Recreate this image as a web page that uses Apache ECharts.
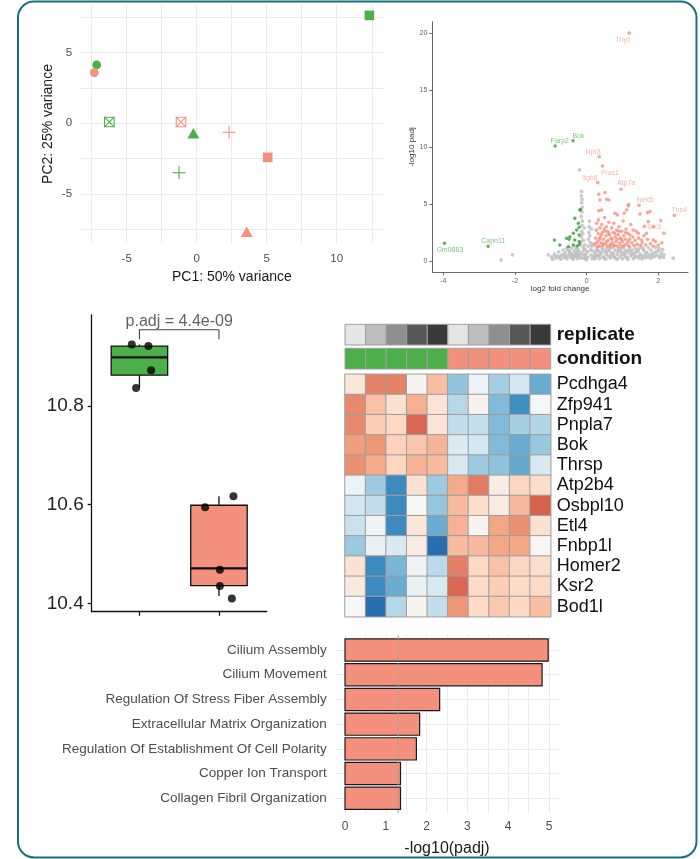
<!DOCTYPE html>
<html><head><meta charset="utf-8">
<script src="https://cdn.jsdelivr.net/npm/echarts@6/dist/echarts.min.js"></script>
<style>html,body{margin:0;padding:0;background:#fff}#c{width:700px;height:859px}</style>
</head><body><div id="c"></div>
<script>
// ---------------- DATA ----------------
const GREEN = '#4daf4a', SALMON = '#f4917e';

// PCA: samples in order condition A rep1..5, condition B rep1..5
const pcaPC1 = [-7.14, -0.24, 12.33, -1.26, -6.24, -7.31, 3.57, 5.07, 2.31, -1.12];
const pcaPC2 = [4.13, -0.76, 7.64, -3.50, 0.09, 3.58, -7.74, -2.41, -0.64, 0.09];
const pcaCond = [0, 0, 0, 0, 0, 1, 1, 1, 1, 1];
const pcaRep = [1, 2, 3, 4, 5, 1, 2, 3, 4, 5];
const pcaXTicks = [-5, 0, 5, 10];
const pcaYTicks = [-5, 0, 5];

// Volcano
const volcGray = [[-1.07,0.53],[-0.95,0.15],[-0.98,0.35],[-0.9,0.6],[-0.85,0.25],[-0.8,0.45],[-0.78,0.8],[-0.72,0.15],[-0.7,0.5],[-0.66,0.95],[-0.62,0.3],[-0.6,0.7],[-0.56,1.1],[-0.55,0.2],[-0.5,0.5],[-0.48,0.85],[-0.45,0.3],[-0.42,1.15],[-0.4,0.6],[-0.38,0.15],[-0.35,0.9],[-0.33,0.4],[-0.3,1.2],[-0.28,0.7],[-0.25,0.2],[-0.24,1.0],[-0.22,0.45],[-0.2,1.4],[-0.19,0.8],[-0.17,0.3],
 [-0.16,1.7],[-0.15,2.1],[-0.14,2.6],[-0.13,3.1],[-0.12,3.5],[-0.15,3.9],[-0.13,4.3],[-0.12,4.7],[-0.14,5.1],[-0.13,5.4],[-0.15,5.7],[-0.14,6.1],[-0.2,8.0],[-0.1,1.2],[-0.11,2.4],[-0.09,1.8],[-0.08,0.9],[-0.07,2.9],[-0.06,1.4],[-0.05,0.5],[-0.04,1.0],[-0.03,0.2],[-0.02,0.6],[-0.01,0.1],[-0.12,0.6],[-0.1,0.25],
 [0.02,0.3],[0.03,0.8],[0.04,1.3],[0.05,1.9],[0.06,2.5],[0.07,3.0],[0.08,3.5],[0.09,2.2],[0.1,1.6],[0.11,1.0],[0.12,0.5],[0.13,2.8],[0.14,1.3],[0.15,0.2],[0.16,0.9],[0.18,1.5],[0.19,0.4],
 [0.22,0.7],[0.25,0.25],[0.28,1.1],[0.3,0.5],[0.33,0.9],[0.36,0.2],[0.4,0.65],[0.43,1.15],[0.46,0.35],[0.5,0.8],[0.53,0.15],[0.56,1.05],[0.6,0.45],[0.63,0.9],[0.66,0.25],[0.7,0.7],[0.73,1.2],[0.76,0.4],[0.8,0.95],[0.83,0.2],[0.86,0.6],[0.9,1.1],[0.93,0.35],[0.96,0.8],[1.0,0.2],[1.03,1.15],[1.06,0.55],[1.1,0.9],[1.13,0.3],[1.16,0.7],[1.2,1.2],[1.23,0.45],[1.26,0.95],[1.3,0.2],[1.33,0.65],[1.36,1.1],[1.4,0.4],[1.43,0.85],[1.46,0.25],[1.5,0.6],[1.54,1.2],[1.57,0.45],[1.6,0.9],[1.64,0.3],[1.68,0.75],[1.72,1.15],[1.75,0.5],[1.8,0.95],[1.84,0.35],[1.88,0.7],[1.92,1.2],[1.96,0.5],[2.0,0.9],[2.04,0.3],[2.08,0.7],[2.12,1.0],[2.16,0.55],[2.42,0.24],[-2.07,0.53],[-2.39,0.09],
 [0.24,0.45],[0.38,0.75],[0.48,0.3],[0.58,0.85],[0.68,0.5],[0.78,0.3],[0.88,0.85],[0.98,0.55],[1.08,0.35],[1.18,0.95],[1.28,0.55],[1.38,0.8],[1.48,0.45],[1.58,1.05],[1.7,0.35],[1.82,0.6],[1.94,0.8],[2.06,0.45],[-0.88,0.45],[-0.64,0.55],[-0.46,0.7],[-0.36,0.35],[-0.27,0.95],[-0.21,0.6],
 [0.21,0.2],[0.27,0.85],[0.35,0.45],[0.45,1.0],[0.55,0.6],[0.65,1.1],[0.75,0.65],[0.85,0.15],[0.95,1.05],[1.05,0.75],[1.15,0.15],[1.25,0.75],[1.35,0.35],[1.45,1.05],[1.55,0.2],[1.65,0.6],[1.78,0.25],[1.9,0.4],[2.02,1.1],[2.14,0.3],[-0.75,0.3],[-0.58,0.4],[-0.52,0.95],[-0.41,0.45],[-0.31,0.6],[-0.26,0.4]];
const volcUp = [[1.19,20.0],[0.35,9.15],[0.44,8.33],[0.31,6.87],[0.96,6.29],[1.46,4.89],[2.45,4.0],[2.07,3.54],
 [0.34,5.85],[0.51,6.0],[0.56,5.41],[0.62,5.35],[0.37,5.35],[1.17,4.94],[1.12,4.47],[1.7,4.24],[1.77,4.33],[1.49,4.12],[0.79,4.18],[0.86,4.04],[1.05,4.18],[0.34,4.41],[0.42,4.47],[2.16,2.43],[1.72,3.45],[1.61,3.01],[1.86,3.01],[1.67,2.43],[1.3,2.72],[1.44,2.43],[1.86,1.84],[1.54,1.84],[1.21,2.28],[1.16,4.82],
 [0.22,1.4],[0.25,2.0],[0.27,2.7],[0.28,3.3],[0.3,1.7],[0.32,2.4],[0.33,3.6],[0.35,1.3],[0.37,2.9],[0.38,2.1],[0.4,1.6],[0.42,3.2],[0.44,2.5],[0.45,1.35],[0.47,1.9],[0.49,2.8],[0.5,3.8],[0.52,1.5],[0.54,2.2],[0.55,3.0],[0.57,1.3],[0.59,2.6],[0.6,1.8],[0.62,3.4],[0.64,2.3],[0.66,1.45],[0.68,2.0],[0.7,2.9],[0.72,1.6],[0.74,2.5],[0.76,3.3],[0.78,1.35],[0.8,2.1],[0.82,1.7],[0.84,2.7],[0.86,1.3],[0.88,2.3],[0.9,3.0],[0.92,1.55],[0.94,2.0],[0.96,1.3],[0.98,2.6],[1.0,1.7],[1.02,3.5],[1.04,2.2],[1.06,1.4],[1.08,1.9],[1.1,2.8],[1.12,1.5],[1.15,2.4],[1.18,1.3],[1.2,1.9],[1.23,3.2],[1.26,1.6],[1.29,2.1],[1.32,1.35],[1.35,1.8],[1.38,2.6],[1.41,1.45],[1.45,2.0],[1.5,1.35],[1.55,1.6],[1.6,2.2],[1.65,1.4],[1.7,1.9],[1.78,1.5],[1.85,1.3],[1.92,1.7],[2.0,1.4],[2.1,1.6],
 [0.26,1.55],[0.31,1.25],[0.36,1.9],[0.41,2.3],[0.46,1.5],[0.51,2.6],[0.56,1.7],[0.61,2.4],[0.65,1.3],[0.71,1.9],[0.75,1.4],[0.79,2.4],[0.85,1.9],[0.91,2.6],[0.97,1.9],[1.03,1.3],[1.09,2.5],[1.16,1.7]];
const volcDown = [[-0.38,10.55],[-0.88,10.09],[-2.75,1.29],[-3.97,1.55],[-0.19,4.47],[-0.33,3.74],[-0.23,3.3],[-0.21,2.96],[-0.28,2.72],[-0.37,2.43],[-0.21,2.28],[-0.47,2.13],[-0.56,1.99],[-0.33,1.84],[-0.21,1.69],[-0.9,1.84],[-0.75,1.4],[-0.51,1.25],[-0.37,1.4],[-0.26,1.32],[-0.19,1.49],[-0.49,1.9],[-0.17,4.5]];
const volcLabelNames = ['Thy1','Bok','Farp2','Npr3','Fras1','Itgb8','Atp7a','Nek5','Tns4','Stx3','Capn11','Gm0883'];
const volcLabelX = [1.02,-0.23,-0.75,0.18,0.65,0.09,1.10,1.63,2.58,1.88,-2.61,-3.82];
const volcLabelY = [19.39,10.99,10.55,9.54,7.72,7.31,6.82,5.32,4.47,2.96,1.78,0.96];
const volcLabelUp = [1,0,0,1,1,1,1,1,1,1,0,0];
const volcXTicks = [-4, -2, 0, 2];
const volcYTicks = [0, 5, 10, 15, 20];

// Boxplot (one gene, two conditions)
const boxStats = [[1, 10.838, 10.863, 10.899, 10.922, 10.925], [2, 10.415, 10.436, 10.471, 10.599, 10.617]];
const boxPoints = [[0.904,10.925],[1.113,10.922],[1.147,10.873],[0.958,10.837],[1.826,10.595],[2.182,10.617],[2.011,10.468],[2.011,10.435],[2.162,10.410]];
const boxYTicks = [10.4, 10.6, 10.8];
const pAdjText = 'p.adj = 4.4e-09';
const bracketY = [10.936, 10.955];

// Heatmap
const heatSamples = ['A1','A2','A3','A4','A5','B1','B2','B3','B4','B5'];
const heatRep = [1,2,3,4,5,1,2,3,4,5];
const heatCond = [0,0,0,0,0,1,1,1,1,1];
const heatGenes = ['Pcdhga4','Zfp941','Pnpla7','Bok','Thrsp','Atp2b4','Osbpl10','Etl4','Fnbp1l','Homer2','Ksr2','Bod1l'];
const heatVals = [
 [0.3, 1.25, 1.25, 0.05, 0.77, -1.0, -0.15, -0.85, -0.45, -1.25],
 [1.2, 0.75, 0.4, 0.9, 0.35, -0.7, 0.1, -1.1, -1.55, -0.02],
 [1.2, 0.62, 0.52, 1.45, 0.35, -0.62, -0.6, -1.1, -0.85, -0.75],
 [1.05, 1.1, 0.58, 0.7, 0.85, -0.35, -0.45, -1.1, -1.25, -0.95],
 [1.15, 0.95, 0.55, 0.88, 0.8, -0.4, -0.92, -1.02, -1.28, -0.4],
 [-0.15, -0.9, -1.6, 0.4, -0.92, 0.95, 1.3, 0.2, 0.55, 0.45],
 [-0.47, -0.62, -1.6, 0.0, -0.98, 0.8, 0.45, 0.2, 0.82, 1.48],
 [-0.56, -0.12, -1.6, 0.3, -1.25, 0.88, 0.08, 0.98, 1.15, 0.4],
 [-0.93, -0.2, -0.4, 0.2, -1.9, 0.8, 0.82, 0.98, 0.97, 0.02],
 [0.38, -1.6, -1.15, -0.1, -0.68, 1.27, 0.52, 0.73, 0.55, 0.45],
 [0.25, -1.6, -1.25, -0.2, -0.4, 1.45, 0.5, 0.62, 0.5, 0.5],
 [0.0, -1.9, -0.72, 0.05, -0.62, 1.1, 0.5, 0.68, 0.52, 0.76]
];

// Enrichment
const terms = ['Cilium Assembly','Cilium Movement','Regulation Of Stress Fiber Assembly','Extracellular Matrix Organization','Regulation Of Establishment Of Cell Polarity','Copper Ion Transport','Collagen Fibril Organization'];
const termScores = [4.98, 4.83, 2.32, 1.83, 1.75, 1.36, 1.36];
const barXTicks = [0, 1, 2, 3, 4, 5];
const sigThreshold = 1.301;

// ---------------- STYLE / BUILD ----------------
const FONT = 'Liberation Sans, Arial, Helvetica, sans-serif';
const repShades = ['#e5e5e5','#bdbdbd','#8f8f8f','#575757','#393939'];
const condColors = [GREEN, SALMON];
const GRIDC = '#ebebeb';

const chart = echarts.init(document.getElementById('c'), null, {renderer: 'canvas', width: 700, height: 859});

const grids = [
  {left: 80.6, top: 4.5, width: 302.5, height: 239},        // 0 PCA
  {left: 432.3, top: 21.7, width: 255.7, height: 250.6},    // 1 volcano
  {left: 91.7, top: 315, width: 175, height: 296.7},        // 2 boxplot
  {left: 345, top: 324.3, width: 205.7, height: 20.7},      // 3 replicate
  {left: 345, top: 348.3, width: 205.7, height: 20.7},      // 4 condition
  {left: 345, top: 374.3, width: 205.7, height: 242.4},     // 5 heatmap
  {left: 334.8, top: 635.2, width: 224.4, height: 177.9}    // 6 bars
];

const halfSteps = (a, b, s) => { const r = []; for (let v = a; v <= b + 1e-9; v += s) r.push(+v.toFixed(4)); return r; };

const xAxis = [
  {gridIndex: 0, type: 'value', min: -8.29, max: 13.31,
   axisLine: {show: false, onZero: false}, axisTick: {show: false, customValues: halfSteps(-7.5, 12.5, 2.5)},
   axisLabel: {customValues: pcaXTicks, fontSize: 11.5, color: '#4d4d4d', margin: 9},
   splitLine: {show: true, lineStyle: {color: GRIDC, width: 1}},
   name: 'PC1: 50% variance', nameLocation: 'middle', nameGap: 27, nameTextStyle: {fontSize: 14, color: '#1a1a1a'}},
  {gridIndex: 1, type: 'value', min: -4.31, max: 2.83,
   axisLine: {show: true, onZero: false, lineStyle: {color: '#6a6a6a', width: 1}},
   axisTick: {show: true, length: 3, customValues: volcXTicks, lineStyle: {color: '#6a6a6a'}},
   axisLabel: {customValues: volcXTicks, fontSize: 7, color: '#666', margin: 5},
   splitLine: {show: false},
   name: 'log2 fold change', nameLocation: 'middle', nameGap: 12, nameTextStyle: {fontSize: 8, color: '#333'}},
  {gridIndex: 2, type: 'value', min: 0.4, max: 2.6,
   axisLine: {show: true, onZero: false, lineStyle: {color: '#111', width: 1.3}},
   axisTick: {show: true, length: 4, customValues: [1, 2], lineStyle: {color: '#111', width: 1.3}},
   axisLabel: {show: false}, splitLine: {show: false}},
  {gridIndex: 3, type: 'category', data: heatSamples, show: false},
  {gridIndex: 4, type: 'category', data: heatSamples, show: false},
  {gridIndex: 5, type: 'category', data: heatSamples, show: false},
  {gridIndex: 6, type: 'value', min: -0.25, max: 5.25,
   axisLine: {show: false, onZero: false}, axisTick: {show: false, customValues: halfSteps(0, 5, 0.5)},
   axisLabel: {customValues: barXTicks, fontSize: 12, color: '#4d4d4d', margin: 8},
   splitLine: {show: true, lineStyle: {color: GRIDC, width: 1}},
   name: '-log10(padj)', nameLocation: 'middle', nameGap: 27, nameTextStyle: {fontSize: 16, color: '#1a1a1a'}}
];

const yAxis = [
  {gridIndex: 0, type: 'value', min: -8.51, max: 8.41,
   axisLine: {show: false, onZero: false}, axisTick: {show: false, customValues: halfSteps(-7.5, 7.5, 2.5)},
   axisLabel: {customValues: pcaYTicks, fontSize: 11.5, color: '#4d4d4d', margin: 8.5},
   splitLine: {show: true, lineStyle: {color: GRIDC, width: 1}},
   name: 'PC2: 25% variance', nameLocation: 'middle', nameGap: 25, nameTextStyle: {fontSize: 14, color: '#1a1a1a'}},
  {gridIndex: 1, type: 'value', min: -1, max: 21,
   axisLine: {show: true, onZero: false, lineStyle: {color: '#6a6a6a', width: 1}},
   axisTick: {show: true, length: 3, customValues: volcYTicks, lineStyle: {color: '#6a6a6a'}},
   axisLabel: {customValues: volcYTicks, fontSize: 7, color: '#666', margin: 5},
   splitLine: {show: false},
   name: '-log10 padj', nameLocation: 'middle', nameGap: 13, nameTextStyle: {fontSize: 8, color: '#333'}},
  {gridIndex: 2, type: 'value', min: 10.383, max: 10.985,
   axisLine: {show: true, onZero: false, lineStyle: {color: '#111', width: 1.3}},
   axisTick: {show: true, length: 4, customValues: boxYTicks, lineStyle: {color: '#111', width: 1.3}},
   axisLabel: {customValues: boxYTicks, fontSize: 19, color: '#222', margin: 8, formatter: v => v.toFixed(1)},
   splitLine: {show: false}},
  {gridIndex: 3, type: 'category', data: ['replicate'], position: 'right',
   axisLine: {show: false}, axisTick: {show: false},
   axisLabel: {fontSize: 19, fontWeight: 'bold', color: '#111', margin: 6}},
  {gridIndex: 4, type: 'category', data: ['condition'], position: 'right',
   axisLine: {show: false}, axisTick: {show: false},
   axisLabel: {fontSize: 19, fontWeight: 'bold', color: '#111', margin: 6}},
  {gridIndex: 5, type: 'category', data: heatGenes, inverse: true, position: 'right',
   axisLine: {show: false}, axisTick: {show: false},
   axisLabel: {interval: 0, fontSize: 18, color: '#111', margin: 6}},
  {gridIndex: 6, type: 'value', min: 0.4, max: 7.6, inverse: true,
   axisLine: {show: false, onZero: false}, axisTick: {show: false, customValues: terms.map((t, i) => i + 1)},
   axisLabel: {customValues: terms.map((t, i) => i + 1), fontSize: 13.5, color: '#4d4d4d', margin: 8,
     formatter: v => terms[Math.round(v) - 1] || ''},
   splitLine: {show: true, lineStyle: {color: GRIDC, width: 1}}}
];

const series = [];

// PCA points
series.push({
  type: 'custom', xAxisIndex: 0, yAxisIndex: 0, clip: false,
  data: pcaPC1.map((x, i) => [x, pcaPC2[i], pcaCond[i], pcaRep[i]]),
  encode: {x: 0, y: 1},
  renderItem: (params, api) => {
    const p = api.coord([api.value(0), api.value(1)]);
    const c = condColors[api.value(2)];
    const r = api.value(3);
    const x = p[0], y = p[1];
    if (r === 1) return {type: 'circle', shape: {cx: x, cy: y, r: 4.4}, style: {fill: c}};
    if (r === 2) return {type: 'polygon', shape: {points: [[x, y - 6], [x - 6, y + 4.5], [x + 6, y + 4.5]]}, style: {fill: c}};
    if (r === 3) return {type: 'rect', shape: {x: x - 4.8, y: y - 4.8, width: 9.6, height: 9.6}, style: {fill: c}};
    if (r === 4) return {type: 'group', children: [
      {type: 'line', shape: {x1: x - 6.5, y1: y, x2: x + 6.5, y2: y}, style: {stroke: c, lineWidth: 1.1}},
      {type: 'line', shape: {x1: x, y1: y - 6.5, x2: x, y2: y + 6.5}, style: {stroke: c, lineWidth: 1.1}}]};
    return {type: 'group', children: [
      {type: 'rect', shape: {x: x - 4.8, y: y - 4.8, width: 9.6, height: 9.6}, style: {fill: 'none', stroke: c, lineWidth: 1.1}},
      {type: 'line', shape: {x1: x - 4.8, y1: y - 4.8, x2: x + 4.8, y2: y + 4.8}, style: {stroke: c, lineWidth: 1.1}},
      {type: 'line', shape: {x1: x - 4.8, y1: y + 4.8, x2: x + 4.8, y2: y - 4.8}, style: {stroke: c, lineWidth: 1.1}}]};
  }
});

// Volcano
series.push({type: 'scatter', xAxisIndex: 1, yAxisIndex: 1, data: volcGray, symbolSize: 3.8, itemStyle: {color: '#bebebe'}, silent: true});
series.push({type: 'scatter', xAxisIndex: 1, yAxisIndex: 1, data: volcDown, symbolSize: 3.4, itemStyle: {color: '#2f9e2f'}, silent: true});
series.push({type: 'scatter', xAxisIndex: 1, yAxisIndex: 1, data: volcUp, symbolSize: 3.6, itemStyle: {color: '#f4917e'}, silent: true});
series.push({type: 'scatter', xAxisIndex: 1, yAxisIndex: 1, symbolSize: 0, silent: true,
  data: volcLabelNames.map((n, i) => ({name: n, value: [volcLabelX[i], volcLabelY[i]],
    label: {color: volcLabelUp[i] ? '#f5a493' : '#5cb85c'}})),
  label: {show: true, position: 'inside', formatter: '{b}', fontSize: 7}
});

// Boxplot
series.push({
  type: 'custom', xAxisIndex: 2, yAxisIndex: 2,
  data: boxStats, encode: {x: 0, y: [1, 5]},
  renderItem: (params, api) => {
    const c = api.value(0);
    const hw = 0.355;
    const pMin = api.coord([c, api.value(1)]), pQ1 = api.coord([c, api.value(2)]);
    const pMed = api.coord([c, api.value(3)]), pQ3 = api.coord([c, api.value(4)]);
    const pMax = api.coord([c, api.value(5)]);
    const L = api.coord([c - hw, api.value(3)])[0], R = api.coord([c + hw, api.value(3)])[0];
    const col = condColors[c - 1];
    const s = {stroke: '#111', lineWidth: 1.3};
    return {type: 'group', children: [
      {type: 'line', shape: {x1: pMin[0], y1: pMin[1], x2: pQ1[0], y2: pQ1[1]}, style: s},
      {type: 'line', shape: {x1: pQ3[0], y1: pQ3[1], x2: pMax[0], y2: pMax[1]}, style: s},
      {type: 'rect', shape: {x: L, y: pQ3[1], width: R - L, height: pQ1[1] - pQ3[1]}, style: {fill: col, stroke: '#111', lineWidth: 1.3}},
      {type: 'line', shape: {x1: L, y1: pMed[1], x2: R, y2: pMed[1]}, style: {stroke: '#111', lineWidth: 2.4}}
    ]};
  }
});
series.push({type: 'scatter', xAxisIndex: 2, yAxisIndex: 2, data: boxPoints, symbolSize: 8, itemStyle: {color: '#000'}, silent: true, z: 5});
series.push({type: 'line', xAxisIndex: 2, yAxisIndex: 2, symbol: 'none', silent: true,
  data: [[1, bracketY[0]], [1, bracketY[1]], [2, bracketY[1]], [2, bracketY[0]]],
  lineStyle: {color: '#444', width: 1.1}});
series.push({type: 'scatter', xAxisIndex: 2, yAxisIndex: 2, symbolSize: 0, silent: true,
  data: [{name: pAdjText, value: [1.5, bracketY[1]]}],
  label: {show: true, position: 'top', distance: 0, formatter: '{b}', fontSize: 16, color: '#3a3a3a'}});

// Heatmap annotation rows
const annoRender = (colorOf) => (params, api) => {
  const i = api.value(0);
  const p = api.coord([i, 0]);
  const sz = api.size([1, 1]);
  return {type: 'rect', shape: {x: p[0] - sz[0] / 2, y: p[1] - sz[1] / 2, width: sz[0], height: sz[1]},
    style: {fill: colorOf(i), stroke: '#9e9e9e', lineWidth: 1}};
};
series.push({type: 'custom', xAxisIndex: 3, yAxisIndex: 3, data: heatSamples.map((s, i) => [i, 0]),
  renderItem: annoRender(i => repShades[heatRep[i] - 1])});
series.push({type: 'custom', xAxisIndex: 4, yAxisIndex: 4, data: heatSamples.map((s, i) => [i, 0]),
  renderItem: annoRender(i => condColors[heatCond[i]])});

// Heatmap main
const heatData = [];
heatVals.forEach((row, r) => row.forEach((v, c) => heatData.push([c, r, v])));
const heatSeriesIndex = series.length;
series.push({type: 'heatmap', xAxisIndex: 5, yAxisIndex: 5, data: heatData, silent: true,
  itemStyle: {borderColor: '#9e9e9e', borderWidth: 1}});

// Enrichment bars
series.push({
  type: 'custom', xAxisIndex: 6, yAxisIndex: 6,
  data: termScores.map((v, i) => [i + 1, v]), encode: {x: 1, y: 0},
  renderItem: (params, api) => {
    const y = api.value(0), v = api.value(1);
    const a = api.coord([0, y - 0.45]), b = api.coord([v, y + 0.45]);
    return {type: 'rect', shape: {x: a[0], y: Math.min(a[1], b[1]), width: b[0] - a[0], height: Math.abs(b[1] - a[1])},
      style: {fill: SALMON, stroke: '#1a1a1a', lineWidth: 1.2}};
  }
});
series.push({type: 'line', xAxisIndex: 6, yAxisIndex: 6, symbol: 'none', silent: true, z: 10,
  data: [[sigThreshold, 0.4], [sigThreshold, 7.6]],
  lineStyle: {color: '#a0a0a0', width: 1, type: [4, 3]}});

chart.setOption({
  animation: false,
  backgroundColor: '#fff',
  textStyle: {fontFamily: FONT},
  grid: grids,
  xAxis: xAxis,
  yAxis: yAxis,
  visualMap: [{type: 'continuous', show: false, seriesIndex: heatSeriesIndex, dimension: 2, min: -2, max: 2,
    inRange: {color: ['#2166ac','#4393c3','#92c5de','#d1e5f0','#f7f7f7','#fddbc7','#f4a582','#d6604d','#b2182b']}}],
  series: series,
  graphic: [{type: 'rect', z: 100, silent: true,
    shape: {x: 18, y: 1.5, width: 678.5, height: 856, r: 16},
    style: {fill: 'none', stroke: '#17707c', lineWidth: 2}}]
});
</script></body></html>
